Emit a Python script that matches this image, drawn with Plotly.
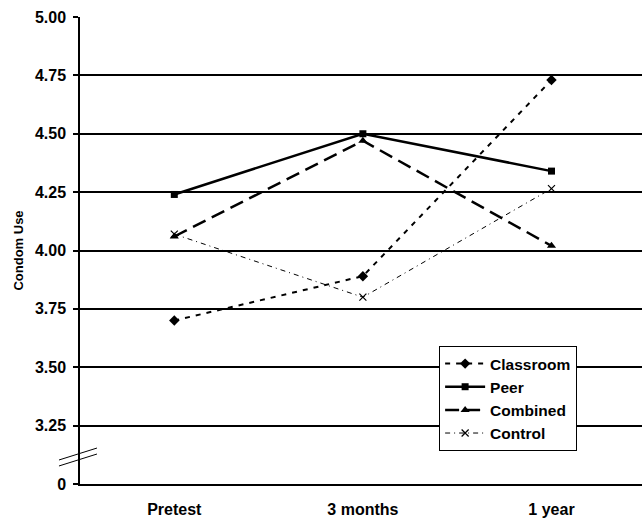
import plotly.graph_objects as go

categories = ["Pretest", "3 months", "1 year"]
classroom = [3.70, 3.89, 4.73]
peer = [4.24, 4.50, 4.34]
combined = [4.06, 4.47, 4.02]
control = [4.07, 3.80, 4.265]

tick_vals = [3.0, 3.25, 3.50, 3.75, 4.00, 4.25, 4.50, 4.75, 5.00]
tick_text = ["0", "3.25", "3.50", "3.75", "4.00", "4.25", "4.50", "4.75", "5.00"]

FONT = "Liberation Sans, Arial, sans-serif"
xs = list(range(len(categories)))

fig = go.Figure()
fig.add_trace(go.Scatter(x=xs, y=classroom, name="Classroom", mode="lines+markers",
                         line=dict(color="black", width=2, dash="5px,6px"),
                         marker=dict(symbol="diamond", size=8, color="black")))
fig.add_trace(go.Scatter(x=xs, y=peer, name="Peer", mode="lines+markers",
                         line=dict(color="black", width=2.5),
                         marker=dict(symbol="square", size=7, color="black")))
fig.add_trace(go.Scatter(x=xs, y=combined, name="Combined", mode="lines+markers",
                         line=dict(color="black", width=2.5, dash="14px,7px"),
                         marker=dict(symbol="triangle-up", size=8, color="black")))
fig.add_trace(go.Scatter(x=xs, y=control, name="Control", mode="lines+markers",
                         line=dict(color="black", width=1, dash="5px,4px,1px,4px"),
                         marker=dict(symbol="x-thin", size=7, color="black",
                                     line=dict(color="black", width=1.2))))

# axis-break marks
for dy in (0.0, -0.0128):
    fig.add_shape(type="line", xref="paper", yref="paper",
                  x0=-0.0374, x1=0.0302, y0=0.0514 + dy, y1=0.0770 + dy,
                  line=dict(color="black", width=1), layer="above")

fig.update_layout(
    width=642, height=519,
    margin=dict(l=80, r=0, t=17, b=35),
    paper_bgcolor="white", plot_bgcolor="white",
    font=dict(family=FONT, color="black", weight="bold"),
    showlegend=True,
    legend=dict(x=0.639, y=0.2955, xanchor="left", yanchor="top",
                bordercolor="black", borderwidth=1, bgcolor="white",
                font=dict(size=15.5, family=FONT, weight="bold"),
                itemwidth=40, tracegroupgap=0),
    xaxis=dict(range=[-0.5, 2.48], tickvals=xs, ticktext=categories,
               showgrid=False, zeroline=False, showline=True, linecolor="black",
               linewidth=1.5, ticks="", tickfont=dict(size=16, family=FONT, weight="bold"),
               ticklabelstandoff=10, automargin=False),
    yaxis=dict(range=[3.0, 5.0], tickvals=tick_vals, ticktext=tick_text,
               showgrid=True, gridcolor="black", gridwidth=1.5, zeroline=False,
               showline=True, linecolor="black", linewidth=1.5,
               ticks="outside", ticklen=5, tickcolor="black", tickwidth=1.5,
               tickfont=dict(size=16, family=FONT, weight="bold"),
               ticklabelstandoff=4, automargin=False,
               title=dict(text="Condom Use", font=dict(size=13, family=FONT, weight="bold"),
                          standoff=8)),
)

fig.write_html("out.html", config={"displayModeBar": False},
               post_script="document.body.style.margin='0';document.body.style.overflow='hidden';")
